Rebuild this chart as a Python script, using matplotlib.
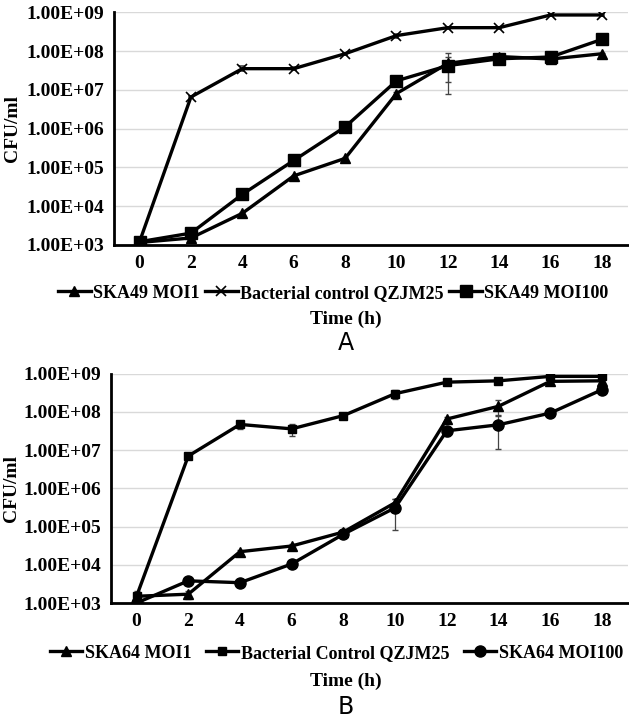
import numpy as np
import matplotlib
matplotlib.use("Agg")
import matplotlib.pyplot as plt
from matplotlib.lines import Line2D
from matplotlib.ticker import FuncFormatter, FixedLocator

hours = [0, 2, 4, 6, 8, 10, 12, 14, 16, 18]

# panel A
a_moi1 = [1.15e3, 1.5e3, 6.5e3, 6.0e4, 1.7e5, 8.0e6, 4.8e7, 7.2e7, 6.2e7, 8.5e7]
a_moi1_err = [1e2, 1e2, 5e2, 5e3, 1.5e4, 8e5, 4e7, 6e6, 5e6, 5e6]
a_ctrl = [1.2e3, 6.5e6, 3.5e7, 3.5e7, 8.5e7, 2.5e8, 4.0e8, 4.0e8, 8.5e8, 8.5e8]
a_ctrl_err = [1e2, 5e5, 5e6, 3e6, 6e6, 3e7, 2e7, 2e7, 3e7, 3e7]
a_moi100 = [1.2e3, 2.0e3, 2.0e4, 1.5e5, 1.1e6, 1.7e7, 4.2e7, 6.3e7, 7.0e7, 2.0e8]
a_moi100_err = [1e2, 1e2, 1e3, 1e4, 8e4, 1e6, 2.6e7, 5e6, 5e6, 1e7]

# panel B
b_moi1 = [1.5e3, 1.7e3, 2.2e4, 3.1e4, 7.2e4, 4.2e5, 6.5e7, 1.4e8, 6.3e8, 6.5e8]
b_moi1_err = [3e2, 4e2, 2e3, 3e3, 6e3, 1.2e5, 1e7, 6e7, 5e7, 5e7]
b_ctrl = [1.5e3, 7.0e6, 4.7e7, 3.6e7, 8.0e7, 3.0e8, 6.0e8, 6.5e8, 8.5e8, 8.5e8]
b_ctrl_err = [5e2, 5e5, 1.2e7, 1.2e7, 8e6, 8e7, 1e8, 5e7, 5e7, 5e7]
b_moi100 = [1.0e3, 3.8e3, 3.4e3, 1.05e4, 6.3e4, 3.1e5, 3.2e7, 4.6e7, 9.3e7, 3.8e8]
b_moi100_err = [2e2, 4e2, 3e2, 1e3, 6e3, 2.3e5, 9e6, 3.5e7, 1e7, 4e7]

labels_a = ["SKA49 MOI1", "Bacterial control QZJM25", "SKA49 MOI100"]
labels_b = ["SKA64 MOI1", "Bacterial Control QZJM25", "SKA64 MOI100"]

serif = "Liberation Serif"
plt.rcParams["font.family"] = serif
plt.rcParams["font.weight"] = "bold"

fig = plt.figure(figsize=(6.29, 7.2), dpi=100)

def panel(ax, series, labels, markers, sizes):
    handles = []
    for (vals, err), lab, m, ms in zip(series, labels, markers, sizes):
        vals = np.array(vals)
        err = np.array(err)
        lower = np.minimum(err, vals * 0.9)
        mew = 1.2 if m == "x" else 1
        ax.errorbar(hours, vals, yerr=[lower, err], color="black", lw=2.4,
                    marker=m, ms=ms, mew=mew,
                    ecolor="#444444", elinewidth=0.9, capsize=2.5,
                    capthick=0.9, zorder=3)
        handles.append(Line2D([], [], color="black", lw=2.4, marker=m,
                              ms=ms, mew=mew))
    ax.set_yscale("log")
    ax.set_ylim(1e3, 1e9)
    ax.set_xlim(-1, 19)
    ax.set_xticks(hours)
    ax.yaxis.set_major_locator(FixedLocator([10.0 ** k for k in range(3, 10)]))
    ax.yaxis.set_minor_locator(FixedLocator([]))
    ax.yaxis.set_major_formatter(FuncFormatter(lambda v, p: f"{v:.2E}"))
    ax.grid(axis="y", color="#d9d9d9", lw=1)
    ax.set_axisbelow(True)
    for s in ["top", "right"]:
        ax.spines[s].set_visible(False)
    ax.spines["left"].set_linewidth(2)
    ax.spines["bottom"].set_linewidth(2)
    ax.tick_params(length=0, labelsize=14, pad=7)
    for t in ax.get_xticklabels() + ax.get_yticklabels():
        t.set_fontweight("bold")
    ax.set_ylabel("CFU/ml", fontsize=14, fontweight="bold")
    return handles

ax1 = fig.add_axes([0.181, 0.660, 0.817, 0.323])
h1 = panel(ax1, [(a_moi1, a_moi1_err), (a_ctrl, a_ctrl_err), (a_moi100, a_moi100_err)],
           labels_a, ["^", "x", "s"], [7, 7, 9])
ax1.yaxis.set_label_coords(-0.18, 0.5)
fig.legend(h1, labels_a, loc="center", bbox_to_anchor=(0.53, 0.593), ncol=3,
           frameon=False, handlelength=1.8, handletextpad=0.15,
           columnspacing=0.3, prop={"family": serif, "weight": "bold", "size": 13})
fig.text(0.55, 0.557, "Time (h)", ha="center", va="center", fontsize=14,
         fontweight="bold")
fig.text(0.55, 0.523, "A", ha="center", va="center", fontsize=17,
         family="DejaVu Sans", fontweight="normal")

ax2 = fig.add_axes([0.176, 0.1625, 0.822, 0.3185])
h2 = panel(ax2, [(b_moi1, b_moi1_err), (b_ctrl, b_ctrl_err), (b_moi100, b_moi100_err)],
           labels_b, ["^", "s", "o"], [7, 6, 8])
ax2.yaxis.set_label_coords(-0.175, 0.5)
fig.legend(h2, labels_b, loc="center", bbox_to_anchor=(0.535, 0.093), ncol=3,
           frameon=False, handlelength=1.8, handletextpad=0.15,
           columnspacing=0.8, prop={"family": serif, "weight": "bold", "size": 13})
fig.text(0.55, 0.053, "Time (h)", ha="center", va="center", fontsize=14,
         fontweight="bold")
fig.text(0.55, 0.018, "B", ha="center", va="center", fontsize=17,
         family="DejaVu Sans", fontweight="normal")

fig.savefig("out.png", dpi=100)
